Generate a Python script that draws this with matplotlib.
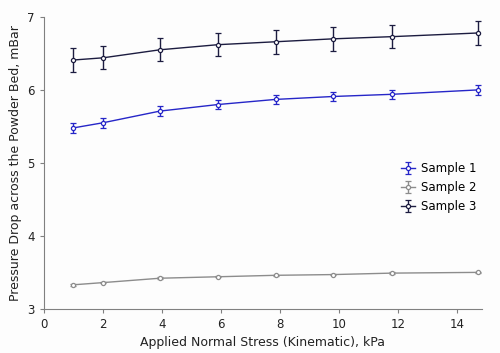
import matplotlib
matplotlib.use("Agg")
import matplotlib.pyplot as plt

stress = [1.0, 2.0, 3.93, 5.9, 7.85, 9.8, 11.8, 14.7]
sample1 = [5.48, 5.55, 5.71, 5.80, 5.87, 5.91, 5.94, 6.00]
sample1_err = [0.065, 0.065, 0.065, 0.06, 0.065, 0.065, 0.065, 0.065]
sample2 = [3.33, 3.36, 3.42, 3.44, 3.46, 3.47, 3.49, 3.50]
sample2_err = [0.01, 0.01, 0.01, 0.01, 0.01, 0.01, 0.01, 0.01]
sample3 = [6.41, 6.44, 6.55, 6.62, 6.66, 6.70, 6.73, 6.78]
sample3_err = [0.165, 0.16, 0.16, 0.16, 0.165, 0.165, 0.16, 0.165]

names = ["Sample 1", "Sample 2", "Sample 3"]
colors = ["#2626c8", "#8c8c8c", "#1c1c40"]

fig = plt.figure(figsize=(5, 3.53), dpi=100, facecolor="#fdfdfd")
ax = fig.add_axes([0.088, 0.125, 0.876, 0.827])
ax.set_facecolor("#fdfdfd")

for vals, errs, name, c in zip([sample1, sample2, sample3],
                               [sample1_err, sample2_err, sample3_err], names, colors):
    ax.errorbar(stress, vals, yerr=errs, color=c, lw=1.0, marker="o", ms=3,
                mfc="white", mec=c, mew=0.9, capsize=2.5, elinewidth=1.0,
                capthick=1.0, label=name)

ax.set_xlim(0, 14.85)
ax.set_ylim(3, 7)
ax.set_xticks(range(0, 15, 2))
ax.set_yticks([3, 4, 5, 6, 7])
for s in ["top", "right"]:
    ax.spines[s].set_visible(False)
for s in ["left", "bottom"]:
    ax.spines[s].set_color("#808080")
    ax.spines[s].set_linewidth(0.8)
ax.tick_params(colors="#808080", labelcolor="#222222", labelsize=8.5, length=3, width=0.8)

ax.set_xlabel("Applied Normal Stress (Kinematic), kPa", fontsize=9, color="#222222")
ax.set_ylabel("Pressure Drop across the Powder Bed, mBar", fontsize=9, color="#222222")

ax.legend(loc="center left", bbox_to_anchor=(0.79, 0.415), frameon=False,
          fontsize=8.5, handlelength=1.2, handletextpad=0.5, labelspacing=0.5)

fig.savefig("out.png", dpi=100, facecolor=fig.get_facecolor())
